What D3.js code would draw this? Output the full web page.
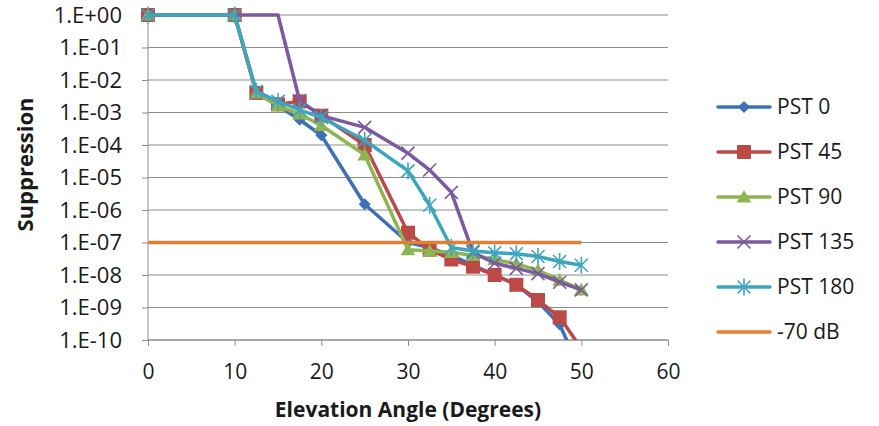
<!DOCTYPE html>
<html>
<head>
<meta charset="utf-8">
<script src="https://cdn.jsdelivr.net/npm/d3@7"></script>
<style>
  body { margin: 0; background: #fff; }
  svg { display: block; font-family: "Open Sans", Lato, sans-serif; }
</style>
</head>
<body>
<div id="chart-area"></div>
<script>
// data
let angles = [0, 10, 12.5, 15, 17.5, 20, 25, 30, 32.5, 35, 37.5, 40, 42.5, 45, 47.5, 50];
let pst0   = [1, 1, 4e-3, 1.6e-3, 6e-4, 2e-4, 1.5e-6, 1e-7, 7e-8, 4e-8, 2e-8, 1e-8, 5e-9, 1.5e-9, 3e-10, 1e-11];
let pst45  = [1, 1, 4e-3, 1.8e-3, 2.2e-3, 8e-4, 1e-4, 2e-7, 6e-8, 3e-8, 1.8e-8, 1e-8, 5e-9, 1.7e-9, 5e-10, 5.5e-11];
let pst90  = [1, 1, 4e-3, 1.6e-3, 9e-4, 4e-4, 5e-5, 6e-8, 5.5e-8, 5e-8, 4e-8, 3e-8, 2.2e-8, 1.4e-8, 7e-9, 3.5e-9];
let pst135 = [1, 1, 1, 1, 2.3e-3, 8e-4, 3.5e-4, 5.6e-5, 1.7e-5, 3.5e-6, 5e-8, 2.3e-8, 1.6e-8, 1.1e-8, 6e-9, 3.5e-9];
let pst180 = [1, 1, 4.5e-3, 2.2e-3, 1.2e-3, 7e-4, 1.4e-4, 1.6e-5, 1.4e-6, 7e-8, 5.5e-8, 4.8e-8, 4.5e-8, 3.7e-8, 2.6e-8, 2e-8];
let limitAngles = [0, 50];
let limitValues = [1e-7, 1e-7];
// PST 135 points on the flat top segment show no marker in the picture
let pst135NoMarker = [2, 3];

let seriesNames = ['PST 0', 'PST 45', 'PST 90', 'PST 135', 'PST 180', '-70 dB'];
let xTicks = [0, 10, 20, 30, 40, 50, 60];
let yTicks = [1, 1e-1, 1e-2, 1e-3, 1e-4, 1e-5, 1e-6, 1e-7, 1e-8, 1e-9, 1e-10];

let colors = ['#3f70b6', '#bb4a46', '#8fb452', '#7b5a9e', '#3ea5bf', '#e57e33'];
let markers = ['diamond', 'square', 'triangle', 'x', 'star', 'none'];

let series = [
	{ name: seriesNames[0], xs: angles, ys: pst0, skip: [] },
	{ name: seriesNames[1], xs: angles, ys: pst45, skip: [] },
	{ name: seriesNames[2], xs: angles, ys: pst90, skip: [] },
	{ name: seriesNames[3], xs: angles, ys: pst135, skip: pst135NoMarker },
	{ name: seriesNames[4], xs: angles, ys: pst180, skip: [] },
	{ name: seriesNames[5], xs: limitAngles, ys: limitValues, skip: [] }
];

//************* Canvas Set Up *************//

let margin = { left: 148, right: 211, top: 15, bottom: 86 };
let width = 879 - margin.left - margin.right;
let height = 426 - margin.top - margin.bottom;

let svg = d3.select('#chart-area').append('svg')
	.attr('width', 879)
	.attr('height', 426);

let g = svg.append('g')
	.attr('transform', 'translate(' + margin.left + ', ' + margin.top + ')');

let x = d3.scaleLinear().domain([0, 60]).range([0, width]);
let y = d3.scaleLog().domain([1e-10, 1]).range([height, 0]);

// gridlines
g.append('g')
	.selectAll('line')
	.data(yTicks)
	.enter()
	.append('line')
		.attr('x1', 0)
		.attr('x2', width)
		.attr('y1', d => y(d))
		.attr('y2', d => y(d))
		.attr('stroke', '#8c8c8c')
		.attr('stroke-width', 1);

// y axis
let yAxisCall = d3.axisLeft(y)
	.tickValues(yTicks)
	.tickSize(6)
	.tickPadding(20)
	.tickFormat(d => {
		let e = Math.round(Math.log10(d));
		return '1.E' + (e < 0 ? '-' : '+') + String(Math.abs(e)).padStart(2, '0');
	});
let yAxis = g.append('g').attr('class', 'y-axis').call(yAxisCall);

// x axis
let xAxisCall = d3.axisBottom(x)
	.tickValues(xTicks)
	.tickSize(6)
	.tickPadding(18);
let xAxis = g.append('g')
	.attr('class', 'x-axis')
	.attr('transform', 'translate(0, ' + height + ')')
	.call(xAxisCall);

[yAxis, xAxis].forEach(a => {
	a.select('.domain').attr('stroke', '#8c8c8c');
	a.selectAll('.tick line').attr('stroke', '#8c8c8c');
	a.selectAll('.tick text')
		.attr('fill', '#1a1a1a')
		.attr('font-family', '"Open Sans", sans-serif')
		.attr('font-size', '21px');
});
yAxis.selectAll('.tick text').attr('font-size', '22px');
yAxis.select('.domain').attr('d', 'M0,' + height + 'V0');
xAxis.select('.domain').attr('d', 'M0,0H' + width);

// axis labels
g.append('text')
	.attr('x', width / 2)
	.attr('y', height + 77)
	.attr('font-size', '21px')
	.attr('font-weight', 'bold')
	.attr('text-anchor', 'middle')
	.attr('fill', '#1a1a1a')
	.text('Elevation Angle (Degrees)');

g.append('text')
	.attr('x', -(height / 2) + 13)
	.attr('y', -115)
	.attr('font-size', '22px')
	.attr('font-weight', 'bold')
	.attr('text-anchor', 'middle')
	.attr('fill', '#1a1a1a')
	.attr('transform', 'rotate(-90)')
	.text('Suppression');

// clip below the axis
svg.append('defs').append('clipPath')
	.attr('id', 'plot-clip')
	.append('rect')
		.attr('x', -20)
		.attr('y', -20)
		.attr('width', width + 40)
		.attr('height', height + 20);

function drawMarker(sel, type, color, s) {
	if (type === 'diamond') {
		sel.append('path').attr('d', 'M0,' + (-s) + 'L' + s + ',0L0,' + s + 'L' + (-s) + ',0Z')
			.attr('fill', color);
	} else if (type === 'square') {
		sel.append('rect').attr('x', -s).attr('y', -s).attr('width', 2 * s).attr('height', 2 * s)
			.attr('fill', color);
	} else if (type === 'triangle') {
		sel.append('path').attr('d', 'M0,' + (-s) + 'L' + (s * 1.05) + ',' + (s * 0.8) + 'L' + (-s * 1.05) + ',' + (s * 0.8) + 'Z')
			.attr('fill', color);
	} else if (type === 'x') {
		sel.append('path').attr('d', 'M' + (-s) + ',' + (-s) + 'L' + s + ',' + s + 'M' + (-s) + ',' + s + 'L' + s + ',' + (-s))
			.attr('stroke', color).attr('stroke-width', 1.6).attr('fill', 'none');
	} else if (type === 'star') {
		sel.append('path').attr('d', 'M' + (-s) + ',' + (-s) + 'L' + s + ',' + s + 'M' + (-s) + ',' + s + 'L' + s + ',' + (-s) +
			'M0,' + (-s * 1.3) + 'V' + (s * 1.3))
			.attr('stroke', color).attr('stroke-width', 1.6).attr('fill', 'none');
	}
}

let markerSize = [6, 7, 7, 6.5, 6.5, 0];

let line = d3.line()
	.x(d => x(d[0]))
	.y(d => y(d[1]));

let plot = g.append('g').attr('clip-path', 'url(#plot-clip)');

series.forEach((s, i) => {
	let pts = s.xs.map((a, j) => [a, s.ys[j], j]);
	let sg = plot.append('g');
	sg.append('path')
		.datum(pts)
		.attr('d', line)
		.attr('fill', 'none')
		.attr('stroke', colors[i])
		.attr('stroke-width', 3.5)
		.attr('stroke-linejoin', 'round');
	sg.selectAll('g.mk')
		.data(pts.filter(d => s.skip.indexOf(d[2]) < 0))
		.enter()
		.append('g')
			.attr('class', 'mk')
			.attr('transform', d => 'translate(' + x(d[0]) + ',' + y(d[1]) + ')')
			.each(function() { drawMarker(d3.select(this), markers[i], colors[i], markerSize[i]); });
});

// legend
let legend = svg.append('g').attr('transform', 'translate(718, 107)');
seriesNames.forEach((n, i) => {
	let lg = legend.append('g').attr('transform', 'translate(0,' + (i * 45) + ')');
	lg.append('line')
		.attr('x1', 0).attr('x2', 52)
		.attr('stroke', colors[i])
		.attr('stroke-width', 3.5)
		.attr('stroke-linecap', 'round');
	let mk = lg.append('g').attr('transform', 'translate(26,0)');
	drawMarker(mk, markers[i], colors[i], markerSize[i]);
	lg.append('text')
		.attr('x', 59)
		.attr('y', 0)
		.attr('dy', '0.35em')
		.attr('font-size', '21px')
		.attr('fill', '#1a1a1a')
		.text(n);
});
</script>
</body>
</html>
